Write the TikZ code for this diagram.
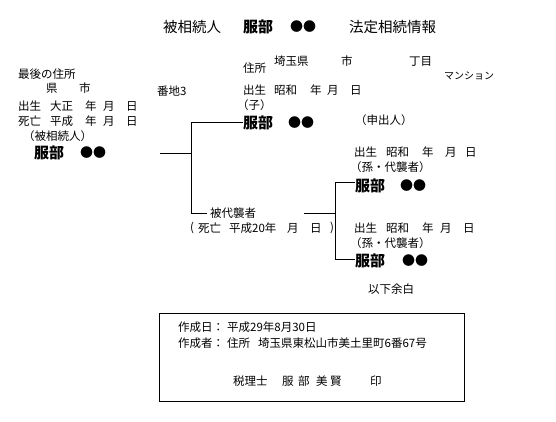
\documentclass[tikz,border=0pt]{standalone}
\usepackage{fontspec}
\setmainfont{Noto Sans CJK JP}
\begin{document}
\begin{tikzpicture}[x=1pt,y=-1pt,
 t/.style={anchor=west,inner sep=0pt,font=\fontsize{11.5}{12}\selectfont},
 sm/.style={anchor=west,inner sep=0pt,font=\fontsize{10}{11}\selectfont},
 nm/.style={anchor=west,inner sep=0pt,font=\fontsize{15}{16}\bfseries\selectfont},
 dots/.style={anchor=west,inner sep=0pt,font=\fontsize{13}{14}\selectfont},
 ttl/.style={anchor=west,inner sep=0pt,font=\fontsize{14.5}{16}\selectfont},
 ln/.style={line width=0.9pt}]
\useasboundingbox (0,0) rectangle (556,422);
% title
\node[ttl] (ttl1) at (163,27) {被相続人};
\node[nm] (ttl2) at (243,27) {服部};
\node[dots] (ttl3) at (290,27) {●●};
\node[ttl] (ttl4) at (349,27) {法定相続情報};
% deceased
\node[t] (a1) at (18,74) {最後の住所};
\node[t] (a2) at (46,88) {県};
\node[t] (a3) at (79,88) {市};
\node[t] (a4) at (157,91) {番地3};
\node[t] (b1) at (18,106) {出生};
\node[t] (b2) at (50,106) {大正};
\node[t] (b3) at (85,106) {年};
\node[t] (b4) at (103,106) {月};
\node[t] (b5) at (126,106) {日};
\node[t] (c1) at (18,121) {死亡};
\node[t] (c2) at (50,121) {平成};
\node[t] (c3) at (85,121) {年};
\node[t] (c4) at (103,121) {月};
\node[t] (c5) at (126,121) {日};
\node[t] (d1) at (23,136) {（被相続人）};
\node[nm] (dn) at (34,153) {服部};
\node[dots] (dd) at (80,153) {●●};
% child
\node[t] (e1) at (243,68) {住所};
\node[t] (e2) at (274,61) {埼玉県};
\node[t] (e3) at (341,61) {市};
\node[t] (e4) at (409,61) {丁目};
\node[sm] (e5) at (444,76) {マンション};
\node[t] (f1) at (243,90) {出生};
\node[t] (f2) at (274,90) {昭和};
\node[t] (f3) at (310,90) {年};
\node[t] (f4) at (327,90) {月};
\node[t] (f5) at (350,90) {日};
\node[t] (f6) at (237,105) {（子）};
\node[nm] (cn) at (243,123) {服部};
\node[dots] (cd) at (288,123) {●●};
\node[t] (f7) at (355,120) {（申出人）};
% substituted
\node[t] (h1) at (210,213) {被代襲者};
\node[t] (h2) at (190,228) {(};
\node[t] (h3) at (198,228) {死亡};
\node[t] (h4) at (229,228) {平成20年};
\node[t] (h5) at (287,228) {月};
\node[t] (h6) at (310,228) {日};
\node[t] (h7) at (330,228) {)};
% grandchildren
\node[t] (g1) at (354,152) {出生};
\node[t] (g2) at (386,152) {昭和};
\node[t] (g3) at (422,152) {年};
\node[t] (g4) at (445,152) {月};
\node[t] (g5) at (465,152) {日};
\node[t] (g6) at (350,167) {（孫・代襲者）};
\node[nm] (gn1) at (355,186) {服部};
\node[dots] (gd1) at (400,186) {●●};
\node[t] (k1) at (354,228) {出生};
\node[t] (k2) at (386,228) {昭和};
\node[t] (k3) at (422,228) {年};
\node[t] (k4) at (440,228) {月};
\node[t] (k5) at (463,228) {日};
\node[t] (k6) at (350,243) {（孫・代襲者）};
\node[nm] (gn2) at (355,261) {服部};
\node[dots] (gd2) at (402,261) {●●};
\node[t] (end) at (368,289) {以下余白};
% connectors
\coordinate (p0) at (160,153);
\coordinate (p1) at (191,153);
\coordinate (p2) at (191,122);
\coordinate (p3) at (191,213);
\coordinate (q0) at (304,213);
\coordinate (q1) at (335,213);
\coordinate (q2) at (335,182);
\coordinate (q3) at (335,259);
\draw[ln] (p0) -- (p1);
\draw[ln] (cn.west |- p2) -- (p2) -- (p3) -- ([xshift=-3pt]h1.west |- p3);
\draw[ln] (q0) -- (q1);
\draw[ln] (gn1.west |- q2) -- (q2) -- (q3) -- (gn2.west |- q3);
% box
\node[draw,line width=0.9pt,minimum width=305pt,minimum height=88pt,anchor=north west,inner sep=0pt] (box) at (159,313) {};
\node[t] (m1) at (178,327) {作成日：};
\node[t] (m2) at (227,327) {平成29年8月30日};
\node[t] (m3) at (178,343) {作成者：};
\node[t] (m4) at (227,343) {住所};
\node[t] (m5) at (258,343) {埼玉県東松山市美土里町6番67号};
\node[t] (s1) at (233,381) {税理士};
\node[t] (s2) at (282,381) {服};
\node[t] (s3) at (298,381) {部};
\node[t] (s4) at (316,381) {美};
\node[t] (s5) at (330,381) {賢};
\node[t] (s6) at (370,381) {印};
\end{tikzpicture}
\end{document}
